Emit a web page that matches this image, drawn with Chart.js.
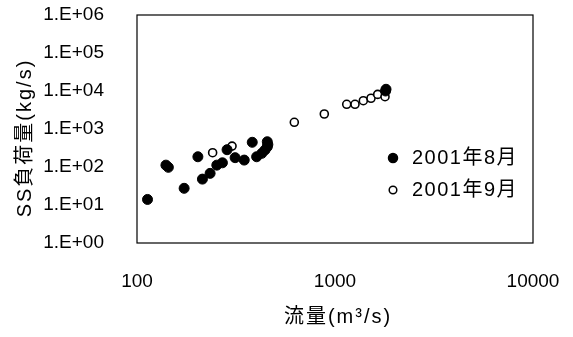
<!DOCTYPE html>
<html>
<head>
<meta charset="utf-8">
<script src="https://cdn.jsdelivr.net/npm/chart.js@4"></script>
<style>
  html, body { margin: 0; padding: 0; background: #fff; }
  #wrap { width: 573px; height: 337px; }
</style>
</head>
<body>
<div id="wrap"><canvas id="ssChart" width="573" height="337"></canvas></div>
<script>
// 2001年8月 (filled)
const augFlow = [113, 140, 144, 173, 203, 214, 234, 253, 270, 285, 313, 348, 382, 402, 427, 443, 455, 455, 458, 1800, 1810];
const augLoad = [14, 112, 98, 27.5, 186, 48, 68, 112, 129, 285, 176, 152, 447, 186, 229, 280, 340, 462, 390, 10000, 11100];
// 2001年9月 (open)
const sepFlow = [241, 302, 623, 883, 1146, 1262, 1390, 1520, 1643, 1789, 1810];
const sepLoad = [238, 355, 1500, 2480, 4470, 4470, 5560, 6450, 8150, 7080, 10700];

const seriesLabels = ['2001年8月', '2001年9月'];
const xTicks = [100, 1000, 10000];
const yTicks = [1, 10, 100, 1000, 10000, 100000, 1000000];
const yTickLabels = ['1.E+00', '1.E+01', '1.E+02', '1.E+03', '1.E+04', '1.E+05', '1.E+06'];
const xTitle = '流量(m³/s)';
const yTitle = 'SS負荷量(kg/s)';

const FONT = '"Liberation Sans", "Noto Sans CJK JP", Arial, sans-serif';

const toPoints = (xs, ys) => xs.map((x, i) => ({ x: x, y: ys[i] }));

// no extra room for labels hanging over the plot edges
const noPad = s => {
    s.paddingTop = 0; s.paddingBottom = 0;
    s.paddingLeft = 0; s.paddingRight = 0;
};

// plot frame, axis titles and legend
const framePlugin = {
    id: 'frame',
    afterDraw(chart) {
        const { ctx, chartArea: a } = chart;
        ctx.save();
        ctx.strokeStyle = '#000';
        ctx.lineWidth = 1.2;
        ctx.strokeRect(a.left, a.top, a.right - a.left, a.bottom - a.top);

        ctx.fillStyle = '#000';
        ctx.textAlign = 'center';
        ctx.textBaseline = 'middle';
        ctx.font = '20px ' + FONT;
        ctx.letterSpacing = '2px';
        ctx.fillText(xTitle, (a.left + a.right) / 2 + 3, a.bottom + 74);

        ctx.save();
        ctx.translate(a.left - 112, (a.top + a.bottom) / 2 + 9);
        ctx.rotate(-Math.PI / 2);
        ctx.fillText(yTitle, 0, 0);
        ctx.restore();

        // legend
        ctx.textAlign = 'left';
        ctx.letterSpacing = '1.5px';
        const lx = a.right - 140;
        const ly = a.top + 143;
        chart.data.datasets.forEach((ds, i) => {
            const y = ly + i * 32;
            ctx.beginPath();
            ctx.arc(lx, y, i === 0 ? 4.5 : 3.8, 0, Math.PI * 2);
            ctx.fillStyle = ds.backgroundColor;
            ctx.fill();
            ctx.lineWidth = 1.5;
            ctx.strokeStyle = '#000';
            ctx.stroke();
            ctx.fillStyle = '#000';
            ctx.fillText(ds.label, lx + 19, y);
        });
        ctx.restore();
    }
};

new Chart(document.getElementById('ssChart'), {
    type: 'scatter',
    data: {
        datasets: [{
            label: seriesLabels[0],
            data: toPoints(augFlow, augLoad),
            backgroundColor: '#000',
            borderColor: '#000',
            pointRadius: 5,
            borderWidth: 1
        }, {
            label: seriesLabels[1],
            data: toPoints(sepFlow, sepLoad),
            backgroundColor: '#fff',
            borderColor: '#000',
            pointRadius: 4,
            borderWidth: 1.6
        }]
    },
    options: {
        responsive: false,
        animation: false,
        layout: { padding: { left: 0, top: 15, right: 40, bottom: 0 } },
        scales: {
            x: {
                type: 'logarithmic',
                min: 100,
                max: 10000,
                grid: { display: false },
                border: { display: false },
                afterBuildTicks: s => { s.ticks = xTicks.map(v => ({ value: v })); },
                afterFit: s => { s.height = 94; noPad(s); },
                ticks: {
                    color: '#000',
                    padding: 19,
                    maxRotation: 0,
                    font: { family: FONT, size: 19 },
                    callback: v => String(v)
                }
            },
            y: {
                type: 'logarithmic',
                min: 1,
                max: 1000000,
                grid: { display: false },
                border: { display: false },
                afterBuildTicks: s => { s.ticks = yTicks.map(v => ({ value: v })); },
                afterFit: s => { s.width = 137; noPad(s); },
                ticks: {
                    color: '#000',
                    padding: 25,
                    font: { family: FONT, size: 19 },
                    callback: v => yTickLabels[yTicks.indexOf(v)]
                }
            }
        },
        plugins: {
            legend: { display: false },
            tooltip: { enabled: false }
        }
    },
    plugins: [framePlugin]
});
</script>
</body>
</html>
